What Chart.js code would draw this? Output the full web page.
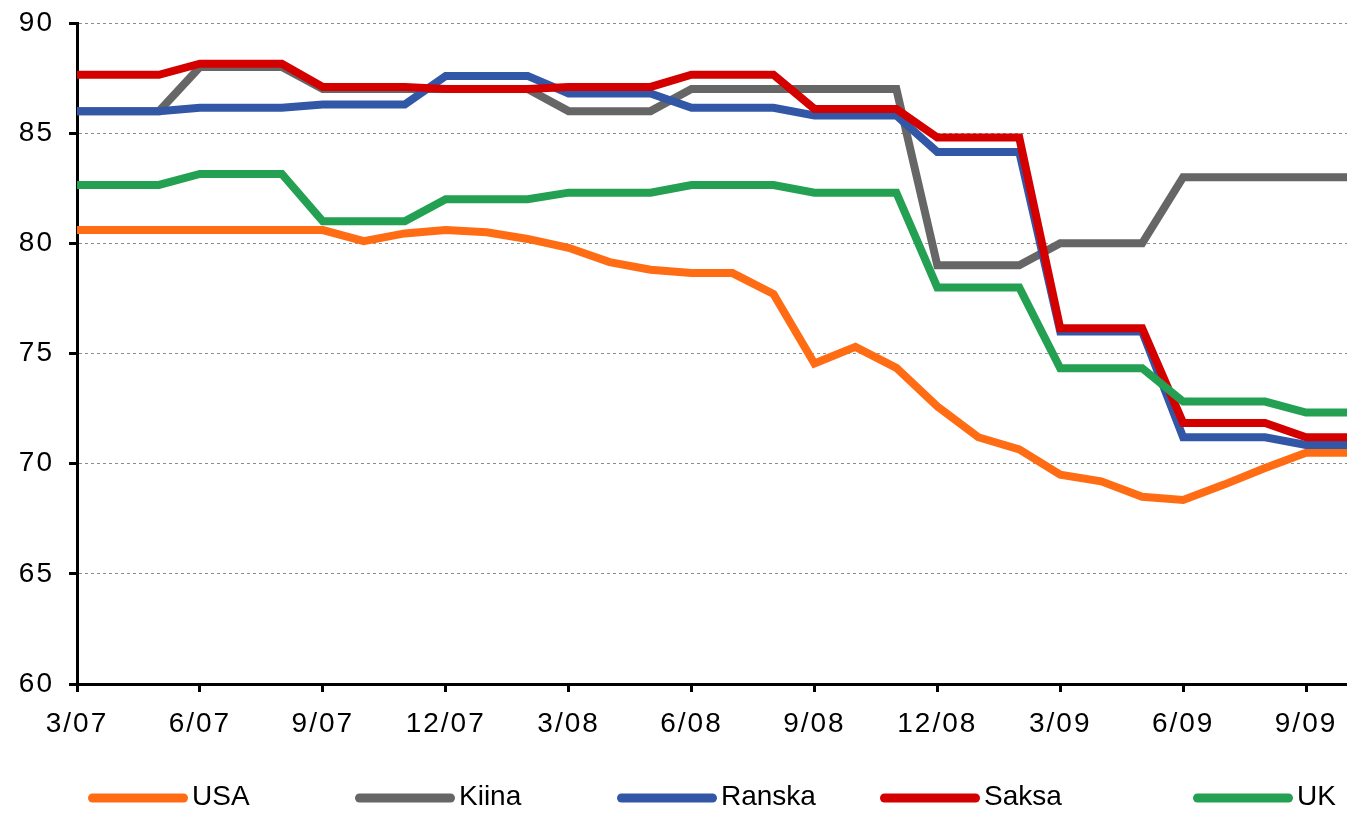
<!DOCTYPE html>
<html>
<head>
<meta charset="utf-8">
<script src="https://cdn.jsdelivr.net/npm/chart.js@4/dist/chart.umd.min.js"></script>
<style>
    html, body { margin: 0; padding: 0; background: #fff; }
    #wrap { width: 1347px; height: 814px; position: relative; }
</style>
</head>
<body>
<div id="wrap"><canvas id="chart"></canvas></div>
<script>
// Months 3/07 .. 10/09
const months = [
    '3/07', '4/07', '5/07', '6/07', '7/07', '8/07', '9/07', '10/07', '11/07', '12/07',
    '1/08', '2/08', '3/08', '4/08', '5/08', '6/08', '7/08', '8/08', '9/08', '10/08', '11/08', '12/08',
    '1/09', '2/09', '3/09', '4/09', '5/09', '6/09', '7/09', '8/09', '9/09', '10/09'
];

const usa = [80.6, 80.6, 80.6, 80.6, 80.6, 80.6, 80.6, 80.1, 80.45, 80.6,
    80.5, 80.2, 79.8, 79.15, 78.8, 78.65, 78.65, 77.7, 74.55, 75.3, 74.35, 72.6,
    71.2, 70.65, 69.5, 69.2, 68.5, 68.35, 69.05, 69.8, 70.5, 70.5];
const kiina = [86.0, 86.0, 86.0, 88.0, 88.0, 88.0, 87.0, 87.0, 87.0, 87.0,
    87.0, 87.0, 86.0, 86.0, 86.0, 87.0, 87.0, 87.0, 87.0, 87.0, 87.0, 79.0,
    79.0, 79.0, 80.0, 80.0, 80.0, 83.0, 83.0, 83.0, 83.0, 83.0];
const ranska = [86.0, 86.0, 86.0, 86.15, 86.15, 86.15, 86.3, 86.3, 86.3, 87.6,
    87.6, 87.6, 86.8, 86.8, 86.8, 86.15, 86.15, 86.15, 85.8, 85.8, 85.8, 84.15,
    84.15, 84.15, 76.0, 76.0, 76.0, 71.2, 71.2, 71.2, 70.85, 70.85];
const saksa = [87.65, 87.65, 87.65, 88.15, 88.15, 88.15, 87.1, 87.1, 87.1, 87.0,
    87.0, 87.0, 87.1, 87.1, 87.1, 87.65, 87.65, 87.65, 86.1, 86.1, 86.1, 84.8,
    84.8, 84.8, 76.15, 76.15, 76.15, 71.85, 71.85, 71.85, 71.2, 71.2];
const uk = [82.65, 82.65, 82.65, 83.15, 83.15, 83.15, 81.0, 81.0, 81.0, 82.0,
    82.0, 82.0, 82.3, 82.3, 82.3, 82.65, 82.65, 82.65, 82.3, 82.3, 82.3, 78.0,
    78.0, 78.0, 74.33, 74.33, 74.33, 72.82, 72.82, 72.82, 72.32, 72.32];

const seriesNames = ['USA', 'Kiina', 'Ranska', 'Saksa', 'UK'];
const seriesColors = ['#ff6c14', '#666666', '#3357a7', '#d40000', '#23a052'];
const seriesValues = [usa, kiina, ranska, saksa, uk];

const FONT = "'Liberation Sans', Arial, sans-serif";

// Legend layout (left edge of each legend line, px)
const legendLeft = [88, 355, 617, 880, 1193];

const datasets = seriesNames.map((name, i) => ({
    label: name,
    data: seriesValues[i],
    borderColor: seriesColors[i],
    backgroundColor: seriesColors[i],
    borderWidth: 8,
    pointRadius: 0,
    tension: 0,
    fill: false,
    order: seriesNames.length - i // later series drawn on top
}));

// Excel-like wide character spacing for axis labels
const spacingPlugin = {
    id: 'spacing',
    beforeLayout(chart) { chart.ctx.letterSpacing = '2px'; },
    beforeDraw(chart) { chart.ctx.letterSpacing = '2px'; }
};

// Legend row drawn under the axis
const legendPlugin = {
    id: 'rowLegend',
    afterDraw(chart) {
        const c = chart.ctx;
        const y = 798;
        c.save();
        c.letterSpacing = '0px';
        chart.data.datasets.forEach((ds, i) => {
            const x0 = legendLeft[i];
            c.beginPath();
            c.lineCap = 'round';
            c.lineWidth = 9;
            c.strokeStyle = ds.borderColor;
            c.moveTo(x0 + 4.5, y);
            c.lineTo(x0 + 95.5, y);
            c.stroke();
            c.fillStyle = '#000';
            c.font = '28px ' + FONT;
            c.textBaseline = 'middle';
            c.textAlign = 'left';
            c.fillText(ds.label, x0 + 104, y - 1);
        });
        c.restore();
    }
};

const ctx = document.getElementById('chart').getContext('2d');
new Chart(ctx, {
    type: 'line',
    data: { labels: months, datasets: datasets },
    plugins: [spacingPlugin, legendPlugin],
    options: {
        responsive: true,
        maintainAspectRatio: false,
        animation: false,
        layout: {
            padding: { left: 0, right: 0, top: 23, bottom: 80 }
        },
        plugins: {
            tooltip: { enabled: false },
            legend: { display: false }
        },
        scales: {
            x: {
                offset: false,
                afterFit: (s) => {
                    s.height = 50;
                    s.paddingLeft = 0;
                    s.paddingRight = 0;
                },
                grid: {
                    drawOnChartArea: false,
                    drawTicks: true,
                    tickLength: 8,
                    tickWidth: 3,
                    color: (c) => (c.index % 3 === 0 ? '#000' : 'rgba(0,0,0,0)'),
                    tickColor: (c) => (c.index % 3 === 0 ? '#000' : 'rgba(0,0,0,0)')
                },
                border: { color: '#000', width: 3 },
                ticks: {
                    autoSkip: false,
                    maxRotation: 0,
                    padding: 15,
                    color: '#000',
                    font: { family: FONT, size: 28 },
                    callback: function(value, index) {
                        return index % 3 === 0 ? this.getLabelForValue(value) : '';
                    }
                }
            },
            y: {
                min: 60,
                max: 90,
                afterFit: (s) => {
                    s.width = 77;
                    s.paddingTop = 0;
                    s.paddingBottom = 0;
                },
                ticks: {
                    stepSize: 5,
                    padding: 15,
                    color: '#000',
                    font: { family: FONT, size: 28 }
                },
                grid: {
                    drawTicks: true,
                    tickLength: 8,
                    tickWidth: 3,
                    tickColor: '#000',
                    lineWidth: 1,
                    color: (c) => (c.tick && c.tick.value === 60 ? 'rgba(0,0,0,0)' : '#8c8c8c')
                },
                border: { color: '#000', width: 3, dash: [3, 3] }
            }
        }
    }
});
</script>
</body>
</html>
